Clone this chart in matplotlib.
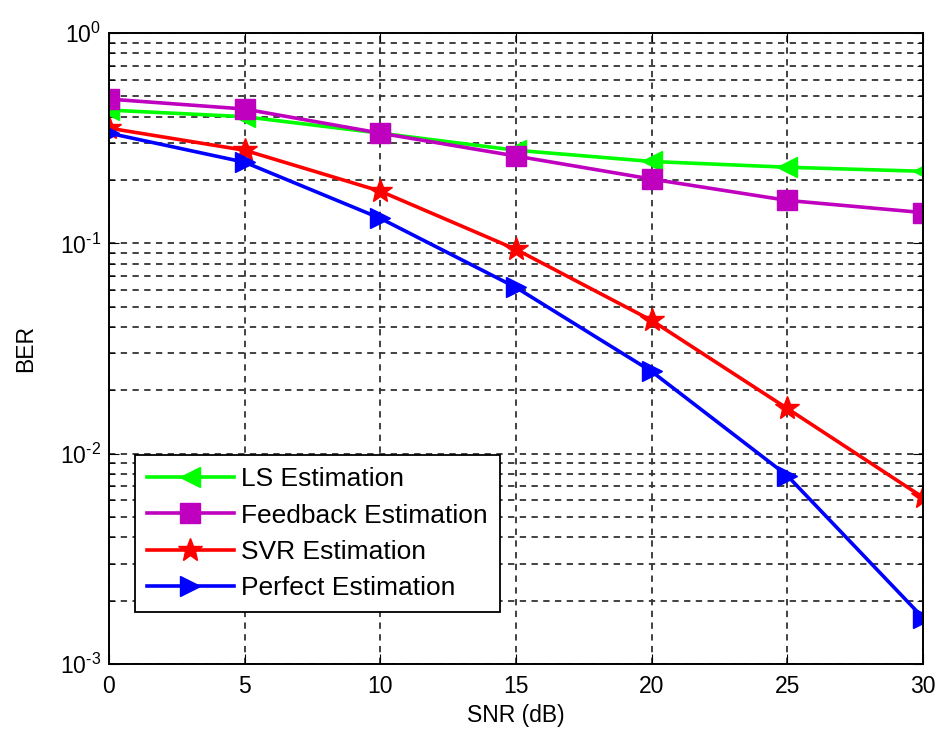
import matplotlib
matplotlib.use("Agg")
import matplotlib.pyplot as plt
from matplotlib.ticker import LogLocator, NullFormatter, FuncFormatter
import numpy as np

plt.rcParams["font.family"] = ["Liberation Sans", "DejaVu Sans"]
plt.rcParams["mathtext.fontset"] = "custom"
plt.rcParams["mathtext.rm"] = "Liberation Sans"
plt.rcParams["mathtext.default"] = "regular"

snr = [0, 5, 10, 15, 20, 25, 30]
ber_ls = [0.43, 0.40, 0.334, 0.277, 0.245, 0.23, 0.22]
ber_feedback = [0.485, 0.435, 0.334, 0.26, 0.202, 0.16, 0.14]
ber_svr = [0.353, 0.277, 0.177, 0.0936, 0.043, 0.0164, 0.0062]
ber_perfect = [0.334, 0.243, 0.1315, 0.0617, 0.0246, 0.00786, 0.00166]

series = [
    ("LS Estimation", ber_ls, "#00FF00", "<"),
    ("Feedback Estimation", ber_feedback, "#BF00BF", "s"),
    ("SVR Estimation", ber_svr, "#FF0000", "*"),
    ("Perfect Estimation", ber_perfect, "#0000FF", ">"),
]

fig = plt.figure(figsize=(9.37, 7.33), dpi=100)
ax = fig.add_axes([0.1163, 0.0941, 0.8687, 0.8609])

for label, vals, color, marker in series:
    ms = {"*": 18, "s": 14}.get(marker, 15)
    ax.semilogy(snr, vals, color=color, marker=marker, markersize=ms,
                linewidth=2.6, label=label, markeredgecolor=color)

ax.set_xlim(0, 30)
ax.set_ylim(1e-3, 1)
ax.set_xticks(snr)
ax.yaxis.set_major_locator(LogLocator(base=10))
ax.yaxis.set_minor_locator(LogLocator(base=10, subs=range(2, 10)))
ax.yaxis.set_minor_formatter(NullFormatter())


def pow10(v, pos):
    e = int(round(np.log10(v)))
    if e < 0:
        return r"$10^{\text{-}%d}$" % (-e)
    return r"$10^{%d}$" % e


ax.yaxis.set_major_formatter(FuncFormatter(pow10))

ax.grid(True, which="major", linestyle=(0, (3.5, 3)), color="#333333", linewidth=1.3)
ax.grid(True, which="minor", axis="y", linestyle=(0, (3.5, 3)), color="#333333", linewidth=1.3)

ax.tick_params(which="both", direction="in", top=True, right=True, labelsize=16.5)
ax.tick_params(axis="x", pad=8)
ax.tick_params(axis="y", pad=6)
ax.tick_params(which="major", length=7)
ax.tick_params(which="minor", length=4)
for sp in ax.spines.values():
    sp.set_linewidth(1.4)

ax.set_xlabel("SNR (dB)", fontsize=16.5, labelpad=4)
ax.set_ylabel("BER", fontsize=16.5, labelpad=16)

leg = ax.legend(loc="lower left", bbox_to_anchor=(0.032, 0.082), fontsize=19,
                handlelength=3.3, frameon=True, fancybox=False, framealpha=1,
                borderpad=0.45, labelspacing=0.47, handletextpad=0.28,
                borderaxespad=0)
leg.get_frame().set_edgecolor("black")
leg.get_frame().set_linewidth(1.3)

fig.savefig("out.png", dpi=100)
